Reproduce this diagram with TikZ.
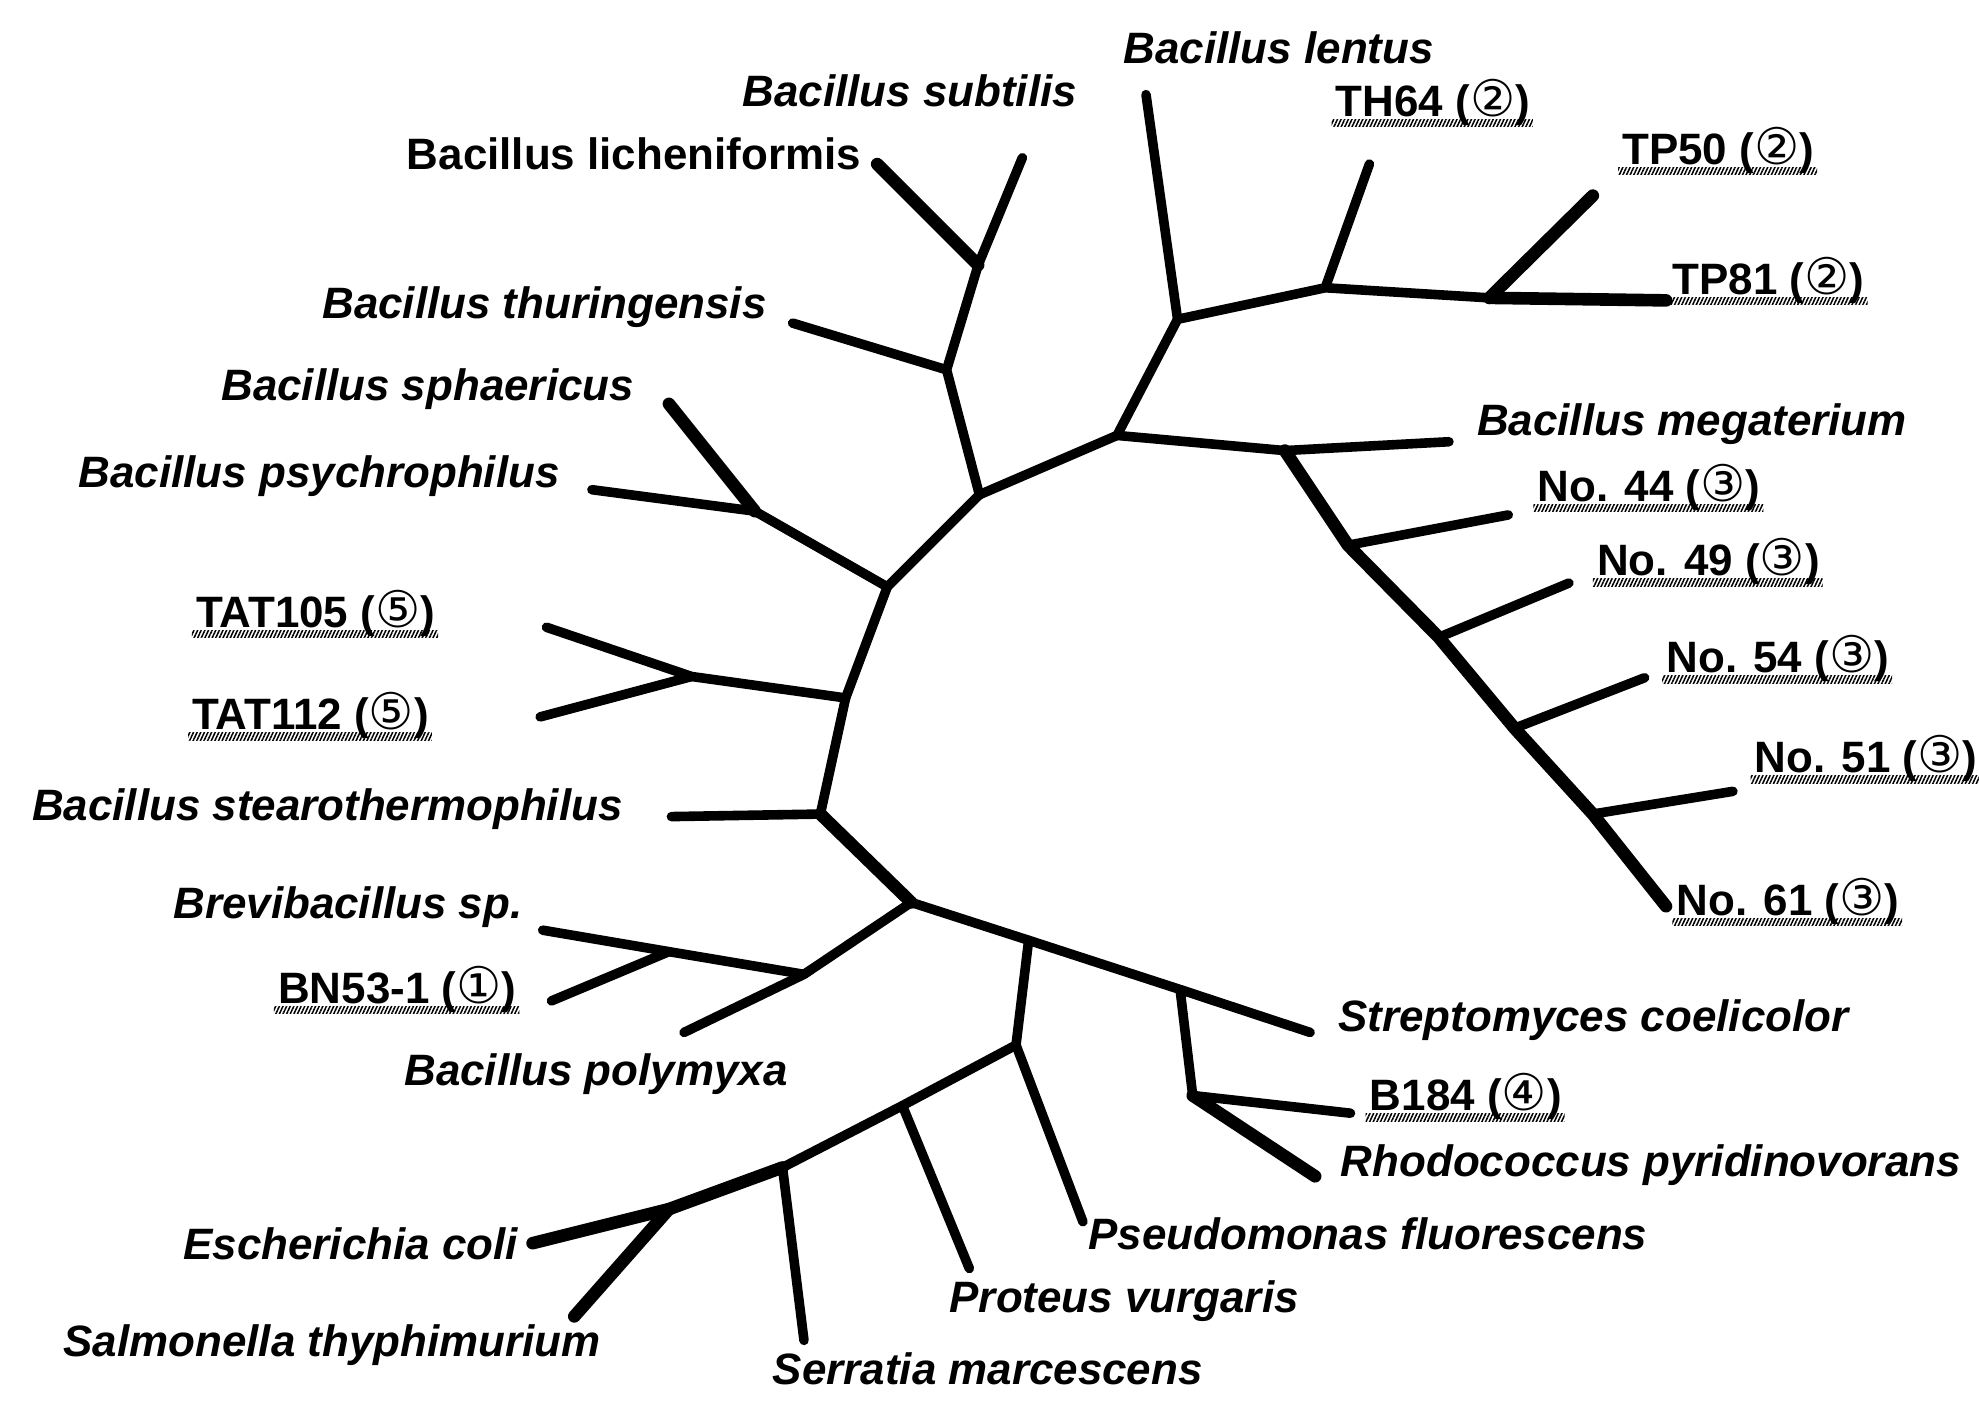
\documentclass[tikz,border=0pt]{standalone}
\usepackage{fontspec}
\setmainfont{Liberation Sans}
\newfontfamily\circfont{DejaVu Sans}
\usetikzlibrary{calc,patterns.meta}
\newcommand{\circd}[1]{{\circfont\mdseries\upshape\fontsize{20}{20}\selectfont #1}}
\newcommand{\hatchunder}[1]{\fill[pattern={Lines[angle=65,distance=1.3pt,line width=0.6pt]}] ($(#1.base west)+(-1.5pt,-1.2pt)$) rectangle ($(#1.base east)+(1pt,-4.2pt)$);}
\begin{document}
\begin{tikzpicture}[x=0.5pt,y=-0.5pt,
  lab/.style={inner sep=0pt, anchor=base west, font={\fontsize{17.4}{20}\selectfont\bfseries\itshape}},
  labu/.style={inner sep=0pt, anchor=base west, font={\fontsize{17.4}{20}\selectfont\bfseries}},
  br/.style={line width=3.8pt, line cap=round, line join=round},
  brk/.style={line width=5pt, line cap=round, line join=round}]
\useasboundingbox (0,0) rectangle (1568,1112);
% junctions
\coordinate (c1) at (776,392);
\coordinate (n1) at (885,345);
\coordinate (n2) at (933,253);
\coordinate (n3) at (1050,228);
\coordinate (n4) at (1180,236);
\coordinate (n5) at (1018,357);
\coordinate (n6) at (1068,432);
\coordinate (n7) at (1140,505);
\coordinate (n8) at (1200,577);
\coordinate (n9) at (1262,645);
\coordinate (n10) at (750,293);
\coordinate (n11) at (775,210);
\coordinate (n12) at (703,465);
\coordinate (n13) at (598,405);
\coordinate (n14) at (670,553);
\coordinate (n15) at (548,536);
\coordinate (n16) at (650,645);
\coordinate (n17) at (722,715);
\coordinate (n18) at (637,772);
\coordinate (n19) at (530,754);
\coordinate (n20) at (815,745);
\coordinate (n21) at (935,784);
\coordinate (n22) at (945,868);
\coordinate (n23) at (805,828);
\coordinate (n24) at (715,876);
\coordinate (n25) at (620,925);
\coordinate (n26) at (530,958);
% tips
\coordinate (tLentus) at (908,75);
\coordinate (tTH64) at (1085,130);
\coordinate (tTP50) at (1262,155);
\coordinate (tTP81) at (1320,238);
\coordinate (tMega) at (1148,350);
\coordinate (t44) at (1195,408);
\coordinate (t49) at (1243,462);
\coordinate (t54) at (1303,537);
\coordinate (t51) at (1373,627);
\coordinate (t61) at (1320,718);
\coordinate (tSubt) at (810,125);
\coordinate (tLich) at (695,130);
\coordinate (tThur) at (628,256);
\coordinate (tSphae) at (530,320);
\coordinate (tPsych) at (469,388);
\coordinate (tTAT105) at (433,497);
\coordinate (tTAT112) at (428,568);
\coordinate (tStearo) at (532,647);
\coordinate (tBrevi) at (430,737);
\coordinate (tBN53) at (437,793);
\coordinate (tPoly) at (542,818);
\coordinate (tStrep) at (1038,818);
\coordinate (tB184) at (1070,882);
\coordinate (tRhodo) at (1042,932);
\coordinate (tPseudo) at (858,968);
\coordinate (tProteus) at (768,1005);
\coordinate (tSerr) at (637,1062);
\coordinate (tEcoli) at (422,985);
\coordinate (tSalm) at (455,1043);
% branches
\draw[br] (c1) -- (n1) -- (n2) -- (n3) -- (n4);
\draw[br] (n2) -- (tLentus);
\draw[br] (n3) -- (tTH64);
\draw[brk] (n4) -- (tTP50);
\draw[brk] (n4) -- (tTP81);
\draw[br] (n1) -- (n5) -- (tMega);
\draw[brk] (n5) -- (n6) -- (n7) -- (n8) -- (n9) -- (t61);
\draw[br] (n6) -- (t44);
\draw[br] (n7) -- (t49);
\draw[br] (n8) -- (t54);
\draw[br] (n9) -- (t51);
\draw[br] (c1) -- (n10) -- (n11) -- (tSubt);
\draw[brk] (n11) -- (tLich);
\draw[br] (n10) -- (tThur);
\draw[br] (c1) -- (n12) -- (n13);
\draw[brk] (n13) -- (tSphae);
\draw[br] (n13) -- (tPsych);
\draw[br] (n12) -- (n14) -- (n15) -- (tTAT105);
\draw[br] (n15) -- (tTAT112);
\draw[br] (n14) -- (n16) -- (tStearo);
\draw[brk] (n16) -- (n17);
\draw[br] (n17) -- (n18) -- (n19) -- (tBrevi);
\draw[br] (n19) -- (tBN53);
\draw[br] (n18) -- (tPoly);
\draw[br] (n17) -- (n20) -- (n21) -- (tStrep);
\draw[br] (n21) -- (n22) -- (tB184);
\draw[brk] (n22) -- (tRhodo);
\draw[br] (n20) -- (n23) -- (tPseudo);
\draw[br] (n23) -- (n24) -- (n25);
\draw[brk] (n25) -- (n26) -- (tEcoli);
\draw[br] (n24) -- (tProteus);
\draw[br] (n25) -- (tSerr);
\draw[brk] (n26) -- (tSalm);
% labels
\node[lab] (lLentus) at (890,50) {Bacillus lentus};
\node[lab] (lSubt) at (588,84) {Bacillus subtilis};
\node[labu] (lLich) at (322,134) {Bacillus licheniformis};
\node[labu] (lTH64) at (1058,92) {TH64 (\circd{②})};
\node[labu] (lTP50) at (1285,130) {TP50 (\circd{②})};
\node[labu] (lTP81) at (1325,233) {TP81 (\circd{②})};
\node[lab] (lThur) at (255,252) {Bacillus thuringensis};
\node[lab] (lSphae) at (175,317) {Bacillus sphaericus};
\node[lab] (lPsych) at (62,386) {Bacillus psychrophilus};
\node[lab] (lMega) at (1170,345) {Bacillus megaterium};
\node[labu] (l44) at (1218,397) {No. 44 (\circd{③})};
\node[labu] (l49) at (1265,456) {No. 49 (\circd{③})};
\node[labu] (l54) at (1320,533) {No. 54 (\circd{③})};
\node[labu] (l51) at (1390,612) {No. 51 (\circd{③})};
\node[labu] (l61) at (1328,725) {No. 61 (\circd{③})};
\node[labu] (lTAT105) at (155,497) {TAT105 (\circd{⑤})};
\node[labu] (lTAT112) at (152,578) {TAT112 (\circd{⑤})};
\node[lab] (lStearo) at (25,650) {Bacillus stearothermophilus};
\node[lab] (lBrevi) at (137,728) {Brevibacillus sp.};
\node[labu] (lBN53) at (220,795) {BN53-1 (\circd{①})};
\node[lab] (lPoly) at (320,860) {Bacillus polymyxa};
\node[lab] (lStrep) at (1060,817) {Streptomyces coelicolor};
\node[labu] (lB184) at (1085,880) {B184 (\circd{④})};
\node[lab] (lRhodo) at (1062,932) {Rhodococcus pyridinovorans};
\node[lab] (lPseudo) at (862,990) {Pseudomonas fluorescens};
\node[lab] (lProteus) at (752,1040) {Proteus vurgaris};
\node[lab] (lSerr) at (612,1097) {Serratia marcescens};
\node[lab] (lEcoli) at (145,998) {Escherichia coli};
\node[lab] (lSalm) at (50,1075) {Salmonella thyphimurium};
% hatched underlines
\hatchunder{lTH64}
\hatchunder{lTP50}
\hatchunder{lTP81}
\hatchunder{l44}
\hatchunder{l49}
\hatchunder{l54}
\hatchunder{l51}
\hatchunder{l61}
\hatchunder{lTAT105}
\hatchunder{lTAT112}
\hatchunder{lBN53}
\hatchunder{lB184}
\end{tikzpicture}
\end{document}
